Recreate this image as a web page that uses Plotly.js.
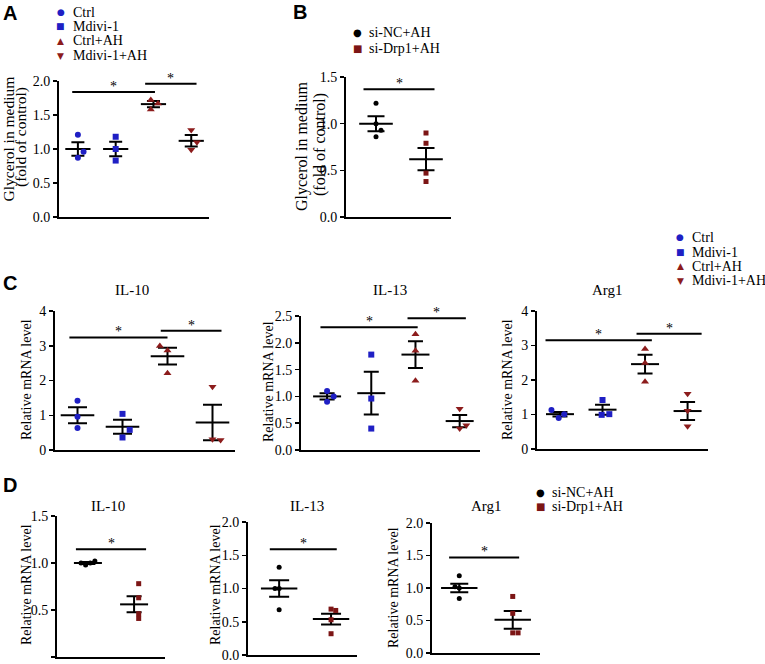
<!DOCTYPE html>
<html><head><meta charset="utf-8">
<script src="https://cdn.plot.ly/plotly-3.0.1.min.js"></script>
<style>html,body{margin:0;padding:0;background:#fff}#chart{width:765px;height:664px}</style>
</head><body><div id="chart"></div>
<script>
// ---------- DATA ----------
const groups4 = ['Ctrl', 'Mdivi-1', 'Ctrl+AH', 'Mdivi-1+AH'];
const groups2 = ['si-NC+AH', 'si-Drp1+AH'];

// Panel A: glycerol in medium
const A_pts  = [[1.21, 0.87, 0.96], [1.18, 1.00, 0.83], [1.72, 1.58, 1.67], [1.28, 0.99, 1.10]];
const A_mean = [1.00, 1.00, 1.66, 1.12];
const A_sem  = [0.10, 0.105, 0.045, 0.085];
const A_sig  = [[-0.15, 2.04, 1.84], [1.78, 3.14, 1.96]];

// Panel B: glycerol in medium (siRNA)
const B_pts  = [[1.22, 1.00, 0.93, 0.86], [0.90, 0.79, 0.47, 0.38]];
const B_mean = [1.00, 0.62];
const B_sem  = [0.08, 0.12];
const B_sig  = [[-0.25, 1.17, 1.37]];

// Panel C: IL-10, IL-13, Arg1
const C_titles = ['IL-10', 'IL-13', 'Arg1'];
const C1_pts  = [[1.42, 0.96, 0.63], [1.04, 0.58, 0.36], [2.99, 2.86, 2.21], [1.82, 0.31, 0.29]];
const C1_mean = [1.00, 0.67, 2.70, 0.79];
const C1_sem  = [0.23, 0.20, 0.24, 0.51];
const C1_sig  = [[-0.18, 2.00, 3.24], [1.85, 3.20, 3.43]];

const C2_pts  = [[1.10, 1.00, 0.90], [1.78, 0.96, 0.40], [2.16, 1.85, 1.29], [0.77, 0.46, 0.40]];
const C2_mean = [1.00, 1.06, 1.78, 0.54];
const C2_sem  = [0.06, 0.40, 0.25, 0.115];
const C2_sig  = [[-0.15, 2.05, 2.29], [1.82, 3.14, 2.46]];

const C3_pts  = [[1.13, 1.01, 0.90], [1.42, 1.01, 0.99], [2.90, 2.49, 1.95], [1.60, 1.11, 0.66]];
const C3_mean = [1.01, 1.14, 2.46, 1.10];
const C3_sem  = [0.065, 0.145, 0.27, 0.26];
const C3_sig  = [[-0.34, 2.16, 3.15], [1.80, 3.33, 3.34]];

// Panel D: IL-10, IL-13, Arg1 (siRNA)
const D_titles = ['IL-10', 'IL-13', 'Arg1'];
const D1_pts  = [[1.00, 0.98, 1.00, 1.02], [0.78, 0.63, 0.46, 0.41]];
const D1_mean = [1.00, 0.56];
const D1_sem  = [0.01, 0.085];
const D1_sig  = [[-0.26, 1.26, 1.145]];

const D2_pts  = [[1.32, 1.00, 1.00, 0.68], [0.69, 0.67, 0.53, 0.32]];
const D2_mean = [1.00, 0.54];
const D2_sem  = [0.125, 0.08];
const D2_sig  = [[-0.18, 1.11, 1.59]];

const D3_pts  = [[1.19, 1.02, 1.00, 0.84], [0.87, 0.61, 0.31, 0.31]];
const D3_mean = [1.00, 0.51];
const D3_sem  = [0.065, 0.135];
const D3_sig  = [[-0.19, 1.12, 1.47]];

// ---------- STYLE / LAYOUT ----------
const W = 765, H = 664;
const SERIF = 'Liberation Serif';
const SANS = 'Liberation Sans';
const BLUE = '#1f1fc4', RED = '#8c1c1c', DRED = '#7c1515';
const style4 = {sym: ['circle', 'square', 'triangle-up', 'triangle-down'], col: [BLUE, BLUE, RED, RED], size: [6, 6, 7, 7]};
const style2 = {sym: ['circle', 'square'], col: ['#000', DRED], size: [5, 5]};

// horizontal jitter of individual points (category units)
const A_jit  = [[0, 0, 0.15], [0, 0, 0], [-0.07, -0.07, 0.12], [0, 0, 0.15]];
const B_jit  = [[0, 0, 0.1, 0], [0, 0, 0, 0]];
const C1_jit = [[0, 0, 0], [0, 0.16, 0], [-0.17, 0, 0], [0, 0, 0.18]];
const C2_jit = [[0, 0.15, 0], [0, 0, 0], [0, 0, 0], [0, 0.15, 0]];
const C3_jit = [[-0.2, 0.1, -0.03], [0, 0.16, -0.02], [0, 0, 0], [0, 0, 0]];
const D1_jit = [[-0.15, -0.05, 0.05, 0.15], [0.1, 0.1, 0.1, 0.1]];
const D2_jit = [[0, -0.08, 0, 0], [0, 0.09, 0, 0]];
const D3_jit = [[0, -0.08, 0, 0], [0, 0, 0, 0.1]];

const panels = [
  {pts: A_pts, mean: A_mean, sem: A_sem, sig: A_sig, jit: A_jit, st: style4, px: [59, 209], py: [81, 217], yr: [0, 2], xr: [-0.5, 3.47], dt: 0.5, fmt: '.1f', ms: 18, cap: 6.5},
  {pts: B_pts, mean: B_mean, sem: B_sem, sig: B_sig, jit: B_jit, st: style2, px: [346, 451], py: [77, 217], yr: [0, 1.5], xr: [-0.6, 1.5], dt: 0.5, fmt: '.1f', ms: 24, cap: 8.5},
  {pts: C1_pts, mean: C1_mean, sem: C1_sem, sig: C1_sig, jit: C1_jit, st: style4, px: [55, 235], py: [311, 450], yr: [0, 4], xr: [-0.5, 3.5], dt: 1, fmt: 'd', ms: 24, cap: 9.5},
  {pts: C2_pts, mean: C2_mean, sem: C2_sem, sig: C2_sig, jit: C2_jit, st: style4, px: [301, 480], py: [316, 450], yr: [0, 2.5], xr: [-0.59, 3.46], dt: 0.5, fmt: '.1f', ms: 20, cap: 7.5},
  {pts: C3_pts, mean: C3_mean, sem: C3_sem, sig: C3_sig, jit: C3_jit, st: style4, px: [537, 708], py: [311, 449], yr: [0, 4], xr: [-0.54, 3.48], dt: 1, fmt: 'd', ms: 20, cap: 7.5},
  {pts: D1_pts, mean: D1_mean, sem: D1_sem, sig: D1_sig, jit: D1_jit, st: style2, px: [57, 165], py: [516, 657], yr: [0, 1.5], xr: [-0.67, 1.67], dt: 0.5, fmt: '.1f', ms: 20, cap: 7.5},
  {pts: D2_pts, mean: D2_mean, sem: D2_sem, sig: D2_sig, jit: D2_jit, st: style2, px: [248, 357], py: [522, 655], yr: [0, 2], xr: [-0.6, 1.5], dt: 0.5, fmt: '.1f', ms: 26, cap: 10},
  {pts: D3_pts, mean: D3_mean, sem: D3_sem, sig: D3_sig, jit: D3_jit, st: style2, px: [432, 540], py: [523, 653], yr: [0, 2], xr: [-0.51, 1.51], dt: 0.5, fmt: '.1f', ms: 26, cap: 9}
];

const fx = p => p / W;
const fy = p => 1 - p / H;

const traces = [];
const layout = {
  width: W, height: H, margin: {l: 0, r: 0, t: 0, b: 0},
  paper_bgcolor: '#fff', plot_bgcolor: '#fff', showlegend: false,
  font: {family: SERIF, color: '#000', size: 14},
  shapes: [], annotations: []
};

panels.forEach((p, i) => {
  const n = i + 1;
  const xa = n === 1 ? 'x' : 'x' + n, ya = n === 1 ? 'y' : 'y' + n;
  const xk = n === 1 ? 'xaxis' : 'xaxis' + n, yk = n === 1 ? 'yaxis' : 'yaxis' + n;
  layout[xk] = {domain: [fx(p.px[0]), fx(p.px[1])], range: p.xr, anchor: ya, showline: true, linewidth: 2, linecolor: '#000',
    showgrid: false, zeroline: false, ticks: '', showticklabels: false, fixedrange: true};
  layout[yk] = {domain: [fy(p.py[1]), fy(p.py[0])], range: p.yr, anchor: xa, showline: true, linewidth: 2, linecolor: '#000',
    showgrid: false, zeroline: false, ticks: 'outside', ticklen: 4, tickwidth: 1.5, tickcolor: '#000',
    dtick: p.dt, tick0: 0, tickformat: p.fmt, tickfont: {family: SERIF, size: 14, color: '#000'}, fixedrange: true};
  const gx = p.mean.map((_, g) => g);
  // mean lines + SEM
  traces.push({type: 'scatter', mode: 'markers', x: gx, y: p.mean, xaxis: xa, yaxis: ya, cliponaxis: false, hoverinfo: 'skip',
    marker: {symbol: 'line-ew-open', size: p.ms, color: '#000', line: {width: 2, color: '#000'}},
    error_y: {type: 'data', array: p.sem, visible: true, color: '#000', thickness: 2, width: p.cap}});
  // individual points per group
  p.pts.forEach((vals, g) => {
    traces.push({type: 'scatter', mode: 'markers', xaxis: xa, yaxis: ya, cliponaxis: false,
      name: (p.st === style4 ? groups4 : groups2)[g],
      x: vals.map((_, k) => g + p.jit[g][k]), y: vals,
      marker: {symbol: p.st.sym[g], size: p.st.size[g], color: p.st.col[g], line: {width: 0}}});
  });
  // significance bars
  p.sig.forEach(s => {
    layout.shapes.push({type: 'line', xref: xa, yref: ya, x0: s[0], x1: s[1], y0: s[2], y1: s[2], line: {color: '#000', width: 2}});
    layout.annotations.push({xref: xa, yref: ya, x: (s[0] + s[1]) / 2, y: s[2], text: '*', showarrow: false,
      yanchor: 'bottom', yshift: -4, font: {family: SERIF, size: 14, color: '#000'}});
  });
});

function addText(px, py, text, opt) {
  layout.annotations.push(Object.assign({xref: 'paper', yref: 'paper', x: fx(px), y: fy(py), text: text, showarrow: false,
    xanchor: 'center', yanchor: 'middle', font: {family: SERIF, size: 14, color: '#000'}}, opt || {}));
}

// panel letters
[['A', 10, 13], ['B', 300, 12], ['C', 10, 283], ['D', 10, 485]].forEach(l =>
  addText(l[1], l[2], '<b>' + l[0] + '</b>', {font: {family: SANS, size: 20, color: '#000'}}));

// subplot titles
addText(132, 290, C_titles[0], {font: {family: SERIF, size: 15}});
addText(390, 290, C_titles[1], {font: {family: SERIF, size: 15}});
addText(607, 290, C_titles[2], {font: {family: SERIF, size: 15}});
addText(108, 506, D_titles[0], {font: {family: SERIF, size: 15}});
addText(307, 506, D_titles[1], {font: {family: SERIF, size: 15}});
addText(487, 506, D_titles[2], {font: {family: SERIF, size: 15}});

// y-axis titles
const glyLine1 = 'Glycerol in medium';
const glyLine2 = '(fold of control)';
const relTitle = 'Relative mRNA level';
addText(8.5, 139, glyLine1, {textangle: -90, font: {family: SERIF, size: 15.5}});
addText(21, 137, glyLine2, {textangle: -90, font: {family: SERIF, size: 15.5}});
addText(302, 147, glyLine1, {textangle: -90, font: {family: SERIF, size: 16}});
addText(320, 145, glyLine2, {textangle: -90, font: {family: SERIF, size: 16}});
[[26, 380], [268, 382], [507, 380], [26, 585], [215, 585], [393, 587]].forEach(t =>
  addText(t[0], t[1], relTitle, {textangle: -90, font: {family: SERIF, size: 14}}));

// legends (glyph + label)
const glyph = {circle: '●', square: '■', 'triangle-up': '▲', 'triangle-down': '▼'};
function addLegend(x, ys, names, st) {
  names.forEach((nm, k) => {
    addText(x, ys[k], glyph[st.sym[k]], {font: {family: 'DejaVu Sans', size: st === style4 ? 9 : 10, color: st.col[k]}});
    addText(x + 10, ys[k], nm, {xanchor: 'left', font: {family: SERIF, size: 14}});
  });
}
addLegend(61, [12, 26, 41, 55.5], groups4, style4);
addLegend(680, [237, 252, 266, 281], groups4, style4);
addLegend(357, [33, 48], groups2, style2);
addLegend(540, [492, 506], groups2, style2);

Plotly.newPlot('chart', traces, layout, {staticPlot: true, displayModeBar: false});
</script></body></html>
